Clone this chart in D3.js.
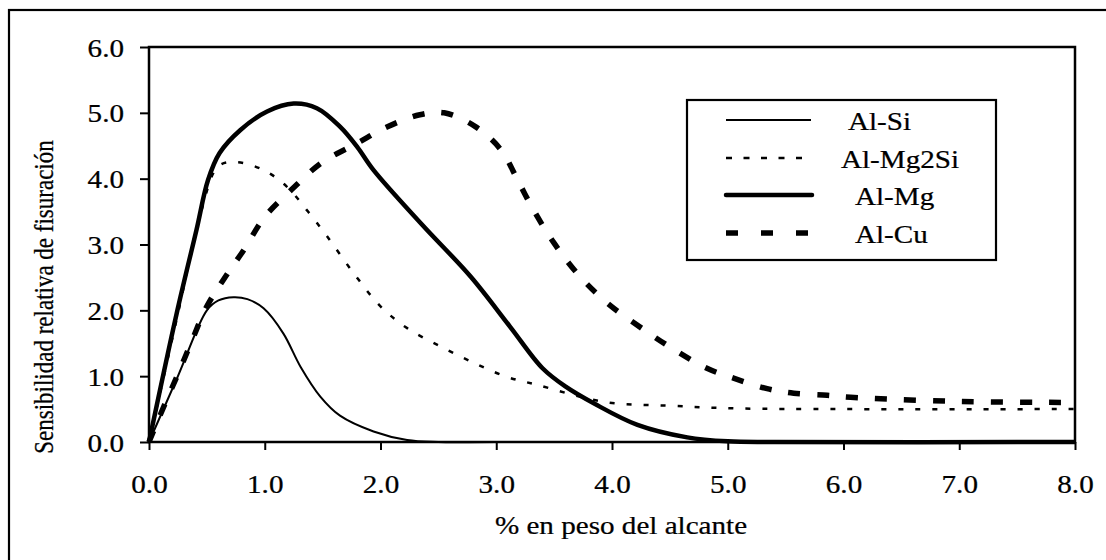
<!DOCTYPE html>
<html><head><meta charset="utf-8">
<script src="https://cdn.jsdelivr.net/npm/d3@7"></script>
<style>body{margin:0;background:#fff}svg{display:block}text{font-family:"Liberation Serif","Times New Roman",serif;fill:#000;stroke:#000;stroke-width:0.25px}</style>
</head><body><svg id="c" width="1106" height="560"></svg>
<script>
const seriesNames = ["Al-Si","Al-Mg2Si","Al-Mg","Al-Cu"];
const xTicks = [0,1,2,3,4,5,6,7,8];
const yTicks = [0,1,2,3,4,5,6];
const xTitle = "% en peso del alcante";
const yTitle = "Sensibilidad relativa de fisuración";
const alSi = [[0,0],[0.25,1.0],[0.5,2.0],[0.6,2.15],[0.73,2.2],[0.85,2.17],[0.99,2.03],[1.16,1.65],[1.31,1.14],[1.48,0.69],[1.65,0.4],[1.94,0.16],[2.23,0.03],[2.5,0],[3,0],[8,0]];
const alMg2Si = [[0,0],[0.25,1.95],[0.45,3.5],[0.6,4.19],[0.76,4.25],[0.99,4.13],[1.19,3.88],[1.36,3.53],[1.54,3.12],[1.77,2.56],[2.0,2.06],[2.23,1.73],[2.52,1.45],[2.81,1.2],[3.09,0.99],[3.35,0.87],[3.93,0.61],[4.51,0.55],[5.08,0.51],[6,0.5],[8,0.5]];
const alMg = [[0,0],[0.24,1.96],[0.41,3.22],[0.51,3.98],[0.61,4.39],[0.79,4.74],[1.02,5.02],[1.25,5.14],[1.45,5.07],[1.65,4.79],[1.8,4.48],[1.94,4.13],[2.36,3.3],[2.78,2.51],[3.12,1.75],[3.4,1.12],[3.6,0.84],[3.85,0.58],[4.22,0.26],[4.65,0.07],[5.0,0.01],[5.4,0],[8,0]];
const alCu = [[0,0],[0.14,0.59],[0.24,0.99],[0.35,1.45],[0.5,2.06],[0.66,2.51],[0.82,2.92],[1.0,3.42],[1.23,3.83],[1.49,4.24],[1.8,4.54],[2.06,4.79],[2.34,4.97],[2.55,5.0],[2.82,4.79],[3.04,4.44],[3.19,3.96],[3.32,3.53],[3.5,3.02],[3.71,2.54],[3.96,2.11],[4.28,1.7],[4.54,1.4],[4.82,1.12],[5.05,0.97],[5.34,0.81],[5.57,0.74],[5.86,0.71],[6.06,0.68],[6.9,0.62],[8,0.6]];
const seriesData = [alSi, alMg2Si, alMg, alCu];

const styles = [
  {w:2, dash:null, legDash:null},
  {w:2.5, dash:"5,12", legDash:"6,11.5"},
  {w:4.5, dash:null, legDash:null, cap:"round"},
  {w:5.5, dash:"12,17", legDash:"12,23"}
];
const SX = 1.12; // horizontal stretch of text
const FS = 26;
const svg = d3.select("#c");
const L=149, R=1075, T=47, B=442;
const x = d3.scaleLinear().domain([0,8]).range([L,R]);
const y = d3.scaleLinear().domain([0,6]).range([B,T]);

// outer frame
svg.append("rect").attr("x",9).attr("y",10).attr("width",1200).attr("height",600)
  .attr("fill","none").attr("stroke","#000").attr("stroke-width",2.2);

const fmt = d3.format(".1f");
const ga = svg.append("g").attr("transform",`translate(${L},0)`)
  .call(d3.axisLeft(y).tickValues(yTicks).tickFormat(fmt).tickSize(9).tickPadding(25));
const gb = svg.append("g").attr("transform",`translate(0,${B})`)
  .call(d3.axisBottom(x).tickValues(xTicks).tickFormat(fmt).tickSize(8).tickPadding(12));
[ga,gb].forEach(g=>{
  g.select(".domain").remove();
  g.selectAll(".tick line").attr("stroke","#000").attr("stroke-width",2);
  g.selectAll("text").attr("font-size",FS).attr("font-family",'"Liberation Serif",serif').attr("fill","#000");
});
ga.selectAll(".tick text").each(function(){
  const t=d3.select(this);
  t.attr("x",null).attr("dy","0.35em").attr("transform",`translate(-25,0) scale(${SX},1)`);
});
gb.selectAll(".tick text").each(function(){
  const t=d3.select(this);
  t.attr("y",null).attr("dy",null).attr("transform",`translate(0,51) scale(${SX},1)`);
});

// curves
const line = d3.line().x(d=>x(d[0])).y(d=>y(d[1])).curve(d3.curveCatmullRom.alpha(0.5));
seriesData.forEach((s,i)=>{
  const p = svg.append("path").datum(s).attr("d",line).attr("fill","none")
    .attr("stroke","#000").attr("stroke-width",styles[i].w).attr("stroke-linejoin","round");
  if(styles[i].dash) p.attr("stroke-dasharray",styles[i].dash);
});

// plot frame
svg.append("rect").attr("x",L).attr("y",T).attr("width",R-L).attr("height",B-T)
  .attr("fill","none").attr("stroke","#000").attr("stroke-width",2.5);

// titles
svg.append("text").attr("transform",`translate(621,534) scale(${SX},1)`).attr("text-anchor","middle")
  .attr("font-size",FS).text(xTitle);
svg.append("text").attr("transform",`translate(53,297) scale(1.2,1) rotate(-90)`).attr("text-anchor","middle")
  .attr("font-size",23).text(yTitle);

// legend
svg.append("rect").attr("x",687).attr("y",100).attr("width",309).attr("height",160)
  .attr("fill","#fff").attr("stroke","#000").attr("stroke-width",2.2);
const legY = [120,158,195,233];
const legTx = [848,841,855,855];
const legEnd = [811,805,812,810];
seriesNames.forEach((n,i)=>{
  const l = svg.append("line").attr("x1",726).attr("x2",legEnd[i]).attr("y1",legY[i]).attr("y2",legY[i])
    .attr("stroke","#000").attr("stroke-width",styles[i].w);
  if(styles[i].legDash) l.attr("stroke-dasharray",styles[i].legDash);
  if(styles[i].cap) l.attr("stroke-linecap",styles[i].cap);
  svg.append("text").attr("transform",`translate(${legTx[i]},${legY[i]+10}) scale(${SX},1)`)
    .attr("font-size",FS).text(n);
});
</script></body></html>
